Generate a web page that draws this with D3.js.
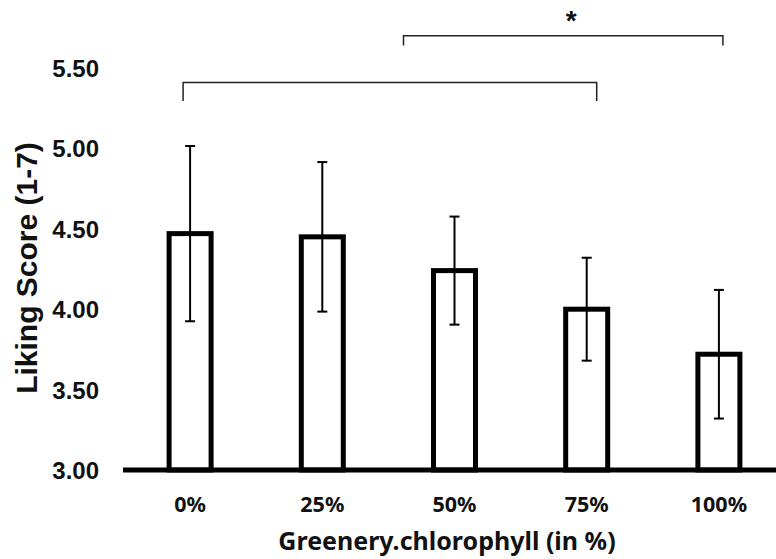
<!DOCTYPE html>
<html>
<head>
<meta charset="utf-8">
<script src="https://cdn.jsdelivr.net/npm/d3@7"></script>
<style>
  html, body { margin: 0; padding: 0; background: #fff; }
  svg { display: block; }
</style>
</head>
<body>
<svg id="chart" width="776" height="559"></svg>
<script>
// ---- data ----
const categories = ["0%", "25%", "50%", "75%", "100%"];
const means = [4.47, 4.45, 4.24, 4.00, 3.72];
const errors = [0.545, 0.465, 0.336, 0.32, 0.40];
const yTicks = [3.0, 3.5, 4.0, 4.5, 5.0, 5.5];
const yTitle = "Liking Score (1-7)";
const xTitle = "Greenery.chlorophyll (in %)";
// significance brackets: [from category, to category, bracket level, label]
const brackets = [
  { from: "0%", to: "75%", level: 5.41, label: "" },
  { from: "50%", to: "100%", level: 5.70, label: "*" }
];

// ---- layout ----
const svg = d3.select("#chart");
const axisY = 470;
const x = d3.scaleBand().domain(categories).range([124, 785]).paddingInner(0).paddingOuter(0);
const y = d3.scaleLinear().domain([3, 5.5]).range([axisY, 68]);
const barW = 42;
const cx = c => x(c) + x.bandwidth() / 2;

// y tick labels (no axis line)
const yAxis = d3.axisLeft(y).tickValues(yTicks).tickFormat(d3.format(".2f")).tickSize(0).tickPadding(0);
const gy = svg.append("g").attr("transform", "translate(99,0)").call(yAxis);
gy.select(".domain").remove();
gy.selectAll("text")
  .attr("font-family", "'Liberation Sans', Arial, sans-serif")
  .attr("font-weight", "bold")
  .attr("font-size", 24)
  .attr("fill", "#111")
  .attr("dy", "0.35em");

// bars
svg.append("g").selectAll("rect")
  .data(categories)
  .join("rect")
  .attr("x", d => cx(d) - barW / 2)
  .attr("y", (d, i) => y(means[i]))
  .attr("width", barW)
  .attr("height", (d, i) => axisY - y(means[i]))
  .attr("fill", "#fff")
  .attr("stroke", "#000")
  .attr("stroke-width", 5);

// x axis line
const xAxis = d3.axisBottom(x).tickSize(0).tickPadding(27);
const gx = svg.append("g").attr("transform", `translate(0,${axisY})`).call(xAxis);
gx.select(".domain")
  .attr("d", `M123,0H776`)
  .attr("stroke", "#000")
  .attr("stroke-width", 5);
gx.selectAll("text")
  .attr("font-family", "'Noto Sans', sans-serif")
  .attr("font-weight", "bold")
  .attr("font-size", 21.5)
  .attr("fill", "#111");

// error bars
const eg = svg.append("g").attr("stroke", "#000").attr("stroke-width", 2);
categories.forEach((c, i) => {
  const hi = y(means[i] + errors[i]);
  const lo = y(means[i] - errors[i]);
  const xc = cx(c);
  eg.append("line").attr("x1", xc).attr("x2", xc).attr("y1", hi).attr("y2", lo);
  eg.append("line").attr("x1", xc - 5).attr("x2", xc + 5).attr("y1", hi).attr("y2", hi);
  eg.append("line").attr("x1", xc - 5).attr("x2", xc + 5).attr("y1", lo).attr("y2", lo);
});

// brackets
const bOff = [[-7, 10], [-51, 4]];
const bDrop = [0.115, 0.06];
brackets.forEach((b, i) => {
  const x1 = cx(b.from) + bOff[i][0];
  const x2 = cx(b.to) + bOff[i][1];
  const yl = y(b.level);
  const yd = y(b.level - bDrop[i]);
  svg.append("path")
    .attr("d", `M${x1},${yd}V${yl}H${x2}V${yd}`)
    .attr("fill", "none")
    .attr("stroke", "#222")
    .attr("stroke-width", 1.5);
  if (b.label) {
    svg.append("text")
      .attr("x", (x1 + x2) / 2 + 8)
      .attr("y", yl - 6)
      .attr("text-anchor", "middle")
      .attr("font-family", "'Liberation Sans', Arial, sans-serif")
      .attr("font-weight", "bold")
      .attr("font-size", 28)
      .attr("fill", "#111")
      .text(b.label);
  }
});

// axis titles
svg.append("text")
  .attr("transform", "translate(37,268) rotate(-90)")
  .attr("text-anchor", "middle")
  .attr("font-family", "'Liberation Sans', Arial, sans-serif")
  .attr("font-weight", "bold")
  .attr("font-size", 30)
  .attr("fill", "#111")
  .text(yTitle);

svg.append("text")
  .attr("x", 447)
  .attr("y", 550)
  .attr("text-anchor", "middle")
  .attr("font-family", "'Noto Sans', sans-serif")
  .attr("font-weight", "bold")
  .attr("font-size", 25)
  .attr("fill", "#111")
  .text(xTitle);
</script>
</body>
</html>
